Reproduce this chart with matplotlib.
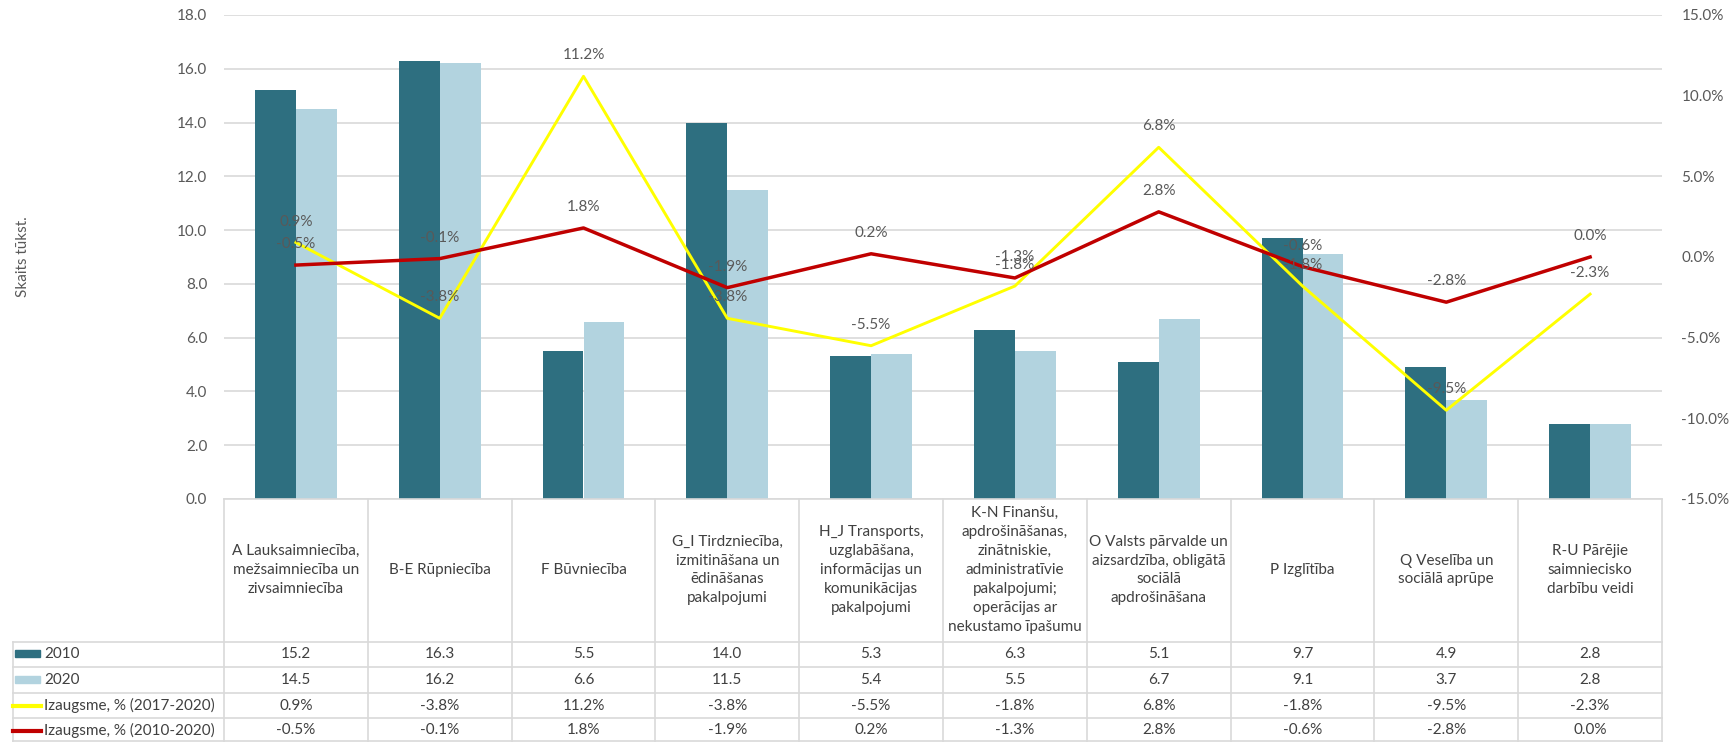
import numpy as np
import matplotlib as mpl
mpl.use('Agg')
import matplotlib.pyplot as plt
import matplotlib.transforms as mtransforms
from matplotlib.lines import Line2D
from matplotlib.patches import Rectangle

plt.rcParams['font.family'] = ['Lato', 'DejaVu Sans']

nozares = ['A Lauksaimniecība,\nmežsaimniecība un\nzivsaimniecība',
           'B-E Rūpniecība',
           'F Būvniecība',
           'G_I Tirdzniecība,\nizmitināšana un\nēdināšanas\npakalpojumi',
           'H_J Transports,\nuzglabāšana,\ninformācijas un\nkomunikācijas\npakalpojumi',
           'K-N Finanšu,\napdrošināšanas,\nzinātniskie,\nadministratīvie\npakalpojumi;\noperācijas ar\nnekustamo īpašumu',
           'O Valsts pārvalde un\naizsardzība, obligātā\nsociālā\napdrošināšana',
           'P Izglītība',
           'Q Veselība un\nsociālā aprūpe',
           'R-U Pārējie\nsaimniecisko\ndarbību veidi']
skaits_2010 = [15.2, 16.3, 5.5, 14.0, 5.3, 6.3, 5.1, 9.7, 4.9, 2.8]
skaits_2020 = [14.5, 16.2, 6.6, 11.5, 5.4, 5.5, 6.7, 9.1, 3.7, 2.8]
izaugsme_17 = [0.9, -3.8, 11.2, -3.8, -5.5, -1.8, 6.8, -1.8, -9.5, -2.3]
izaugsme_10 = [-0.5, -0.1, 1.8, -1.9, 0.2, -1.3, 2.8, -0.6, -2.8, 0.0]
rindas = ['2010', '2020', 'Izaugsme, % (2017-2020)', 'Izaugsme, % (2010-2020)']

c2010 = '#2E6F80'
c2020 = '#B2D3DF'
cdzelt = '#FFFF00'
csark = '#C00000'
pel = '#595959'
rezga = '#D9D9D9'

W, H = 1736, 742
fig = plt.figure(figsize=(W / 100, H / 100), dpi=100)
ax = fig.add_axes([224 / W, 1 - 499 / H, (1662 - 224) / W, (499 - 15) / H])
x = np.arange(len(nozares))
bw = 0.285

ax.bar(x - bw / 2, skaits_2010, bw, color=c2010, zorder=2)
ax.bar(x + bw / 2, skaits_2020, bw, color=c2020, zorder=2)
ax.set_xlim(-0.5, len(nozares) - 0.5)
ax.set_ylim(0, 18)
ax.set_yticks(np.arange(0, 19, 2))
ax.set_yticklabels(['%.1f' % v for v in np.arange(0, 19, 2)])
ax.yaxis.grid(True, color=rezga, lw=1.2, zorder=0)
ax.set_xticks([])
ax.tick_params(axis='y', length=0, labelsize=11, labelcolor=pel, pad=12)
for s in ['top', 'left', 'right']:
    ax.spines[s].set_visible(False)
ax.spines['bottom'].set_color(rezga)
ax.spines['bottom'].set_linewidth(1.2)
ax.set_ylabel('Skaits tūkst.', fontsize=11, color=pel)
ax.yaxis.set_label_coords(-194 / (1662 - 224), 0.5)

ax2 = ax.twinx()
ax2.plot(x, izaugsme_17, color=cdzelt, lw=2.1, zorder=3)
ax2.plot(x, izaugsme_10, color=csark, lw=2.5, zorder=4)
ax2.set_ylim(-15, 15)
ax2.set_yticks(np.arange(-15, 16, 5))
ax2.set_yticklabels(['%.1f%%' % v for v in np.arange(-15, 16, 5)])
ax2.tick_params(axis='y', length=0, labelsize=11, labelcolor=pel, pad=14)
for s in ax2.spines.values():
    s.set_visible(False)
for xi, v in zip(x, izaugsme_17):
    ax2.annotate('%.1f%%' % v, (xi, v), xytext=(0, 15), textcoords='offset points',
                 ha='center', va='center', fontsize=11, color=pel, zorder=5)
for xi, v in zip(x, izaugsme_10):
    ax2.annotate('%.1f%%' % v, (xi, v), xytext=(0, 15), textcoords='offset points',
                 ha='center', va='center', fontsize=11, color=pel, zorder=5)

# datu tabula zem diagrammas
tr = mtransforms.blended_transform_factory(ax.transData, fig.transFigure)
trp = fig.transFigure
def fy(py):
    return 1 - py / H

rind_y = [642, 667, 693, 718, 742]
for b in np.arange(-0.5, len(nozares), 1.0):
    fig.add_artist(Line2D([b, b], [fy(499), fy(742)], transform=tr, color=rezga, lw=1.2))
fig.add_artist(Line2D([13 / W, 13 / W], [fy(642), fy(742)], transform=trp, color=rezga, lw=1.2))
for py in rind_y[:-1]:
    fig.add_artist(Line2D([13 / W, 1662 / W], [fy(py), fy(py)], transform=trp, color=rezga, lw=1.2))
fig.add_artist(Line2D([13 / W, 1662 / W], [fy(741), fy(741)], transform=trp, color=rezga, lw=1.2))

for xi, t in zip(x, nozares):
    fig.text(xi, fy(570), t, transform=tr, ha='center', va='center', fontsize=11,
             color='#404040', linespacing=1.45)

vert = [['%.1f' % v for v in skaits_2010],
        ['%.1f' % v for v in skaits_2020],
        ['%.1f%%' % v for v in izaugsme_17],
        ['%.1f%%' % v for v in izaugsme_10]]
for r in range(4):
    yc = fy((rind_y[r] + rind_y[r + 1]) / 2)
    for xi, t in zip(x, vert[r]):
        fig.text(xi, yc, t, transform=tr, ha='center', va='center', fontsize=11, color='#404040')
    fig.text(44 / W, yc, rindas[r], transform=trp, ha='left', va='center', fontsize=11, color='#404040')

fig.add_artist(Rectangle((15 / W, fy(657)), 25 / W, 7 / H, transform=trp, color=c2010))
fig.add_artist(Rectangle((15 / W, fy(683)), 25 / W, 7 / H, transform=trp, color=c2020))
fig.add_artist(Line2D([13 / W, 41 / W], [fy(706), fy(706)], transform=trp, color=cdzelt, lw=3))
fig.add_artist(Line2D([13 / W, 41 / W], [fy(731), fy(731)], transform=trp, color=csark, lw=3))

fig.savefig('out.png', dpi=100)
